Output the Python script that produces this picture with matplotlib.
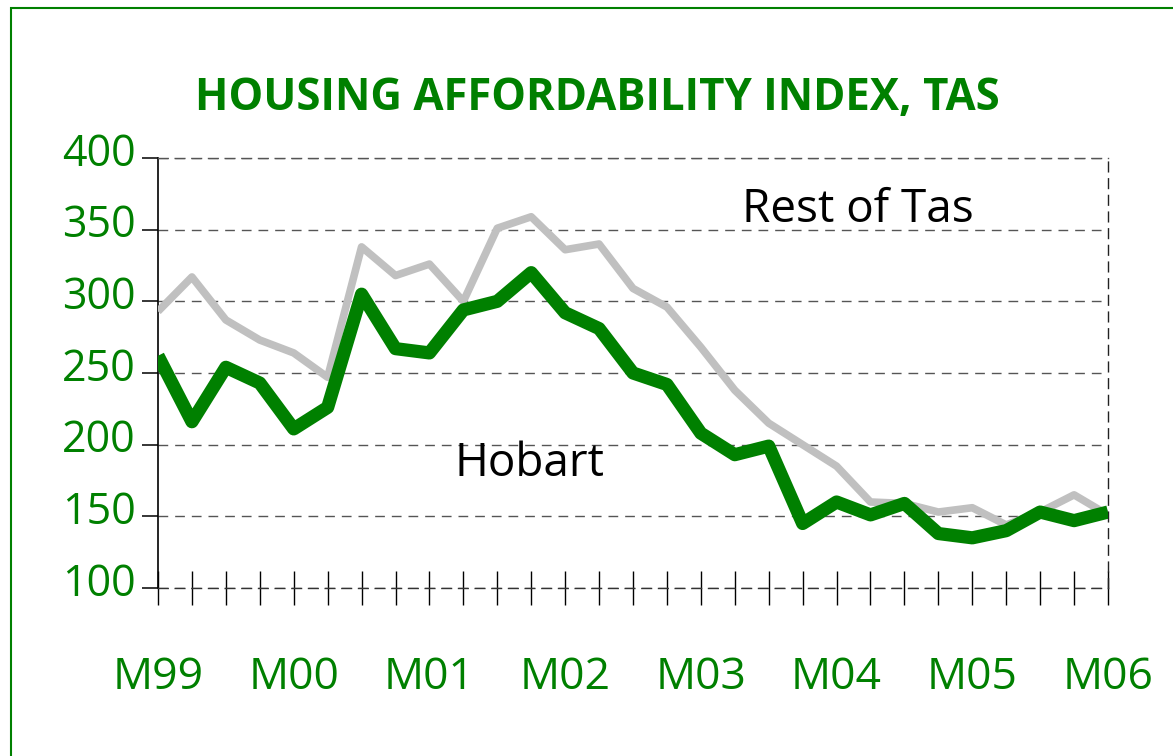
import matplotlib
matplotlib.use("Agg")
import matplotlib.pyplot as plt
import matplotlib.transforms as mtransforms
from matplotlib.patches import Rectangle

# quarterly index values, March 1999 to March 2006
quarters = list(range(29))
year_labels = ["M99", "M00", "M01", "M02", "M03", "M04", "M05", "M06"]
hobart = [262, 216, 254, 243, 211, 226, 305, 267, 264, 294, 300, 320, 292, 281,
          250, 242, 208, 193, 199, 145, 160, 151, 159, 138, 135, 140, 153, 147, 153]
rest_of_tas = [293, 317, 287, 273, 264, 247, 338, 318, 326, 300, 351, 359, 336, 340,
               309, 296, 268, 238, 215, 200, 185, 160, 159, 153, 156, 144, 153, 165, 151]
y_ticks = [100, 150, 200, 250, 300, 350, 400]

GREEN = "#008000"
GREY = "#c0c0c0"
FONT = ["Open Sans", "DejaVu Sans"]

plt.rcParams["font.family"] = FONT

fig = plt.figure(figsize=(11.73, 7.56), dpi=100)
ax = fig.add_axes([158 / 1173, 1 - 588 / 756, 950 / 1173, 430 / 756])

ax.plot(quarters, rest_of_tas, color=GREY, lw=5.5, solid_joinstyle="round",
        solid_capstyle="butt", zorder=3)
ax.plot(quarters, hobart, color=GREEN, lw=9.5, solid_joinstyle="round",
        solid_capstyle="butt", zorder=4)

ax.set_xlim(0, 28)
ax.set_ylim(100, 400)

# x ticks: labelled every year, a tick every quarter
ax.set_xticks(quarters[::4])
ax.set_xticklabels(year_labels)
ax.set_xticks(quarters, minor=True)
ax.tick_params(axis="x", which="both", direction="inout", length=24.5, width=1.0,
               color="black", labelsize=32, labelcolor=GREEN, pad=36)

ax.set_yticks(y_ticks)
ax.tick_params(axis="y", direction="out", length=11.8, width=1.1, color="black",
               labelsize=31, labelcolor=GREEN, pad=4.5)
lift = mtransforms.ScaledTranslation(0, 9 / 100, fig.dpi_scale_trans)
for lab in ax.get_yticklabels():
    lab.set_transform(lab.get_transform() + lift)

ax.grid(axis="y", color="#555555", lw=1, linestyle=(0, (7, 5)), zorder=1)

for side in ["top", "right", "bottom"]:
    ax.spines[side].set_linestyle((0, (7, 5)))
    ax.spines[side].set_linewidth(1)
ax.spines["top"].set_color("#555555")
ax.spines["right"].set_color("#222222")
ax.spines["bottom"].set_color("#333333")
ax.spines["left"].set_color("black")
ax.spines["left"].set_linewidth(1.2)

ax.text(8.75, 178, "Hobart", fontsize=33, color="black", ha="left", va="baseline")
ax.text(17.2, 355.4, "Rest of Tas", fontsize=33, color="black", ha="left",
        va="baseline")

fig.text(597.5 / 1173, 1 - 110 / 756, "HOUSING AFFORDABILITY INDEX, TAS",
         fontsize=31.5, fontweight="bold", color=GREEN, ha="center", va="baseline")

# green frame around the chart (runs off the right and bottom edges)
fig.patches.append(Rectangle((11 / 1173, -0.05), 1.2, 1.05 - 8 / 756,
                             transform=fig.transFigure, fill=False,
                             edgecolor=GREEN, lw=1.5))

fig.savefig("out.png", dpi=100)
